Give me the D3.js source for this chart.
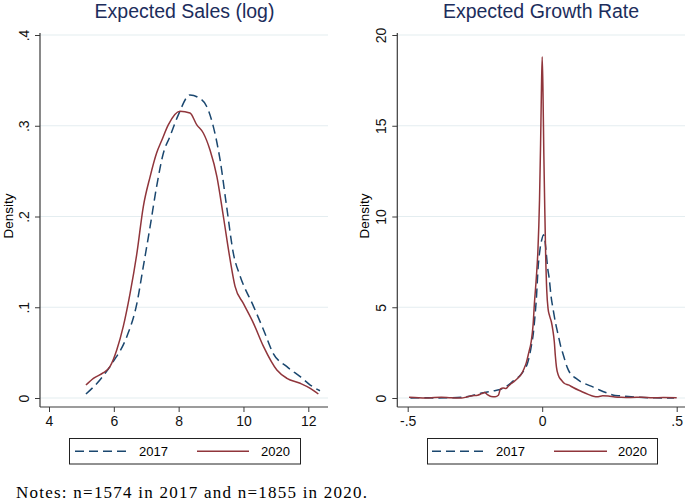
<!DOCTYPE html>
<html>
<head>
<meta charset="utf-8">
<script src="https://cdn.jsdelivr.net/npm/d3@7/dist/d3.min.js"></script>
<style>
  html, body { margin: 0; padding: 0; background: #fff; }
  svg { display: block; }
</style>
</head>
<body>
<svg id="chart" width="685" height="503"></svg>
<script>
// ---------------- DATA ----------------
const seriesNames = ["2017", "2020"];
const titles = ["Expected Sales (log)", "Expected Growth Rate"];
const yLabel = "Density";
const notesText = "Notes: n=1574 in 2017 and n=1855 in 2020.";

const salesXTicks = [4, 6, 8, 10, 12];
const salesXTickLabels = ["4", "6", "8", "10", "12"];
const salesYTicks = [0, 0.1, 0.2, 0.3, 0.4];
const salesYTickLabels = ["0", ".1", ".2", ".3", ".4"];

const growthXTicks = [-0.5, 0, 0.5];
const growthXTickLabels = ["-.5", "0", ".5"];
const growthYTicks = [0, 5, 10, 15, 20];
const growthYTickLabels = ["0", "5", "10", "15", "20"];

// Expected sales (log) density, 2017
const sales2017 = [
  [5.14, 0.0044], [5.57, 0.0198], [5.98, 0.040], [6.40, 0.0676], [6.71, 0.104],
  [6.91, 0.145], [7.12, 0.189], [7.32, 0.233], [7.53, 0.270], [7.73, 0.288],
  [7.99, 0.312], [8.35, 0.334], [8.61, 0.331], [8.87, 0.321], [9.07, 0.299],
  [9.28, 0.262], [9.48, 0.211], [9.69, 0.159], [9.90, 0.134], [10.31, 0.101],
  [10.62, 0.075], [10.92, 0.049], [11.34, 0.0345], [11.75, 0.0235], [12.06, 0.0143],
  [12.36, 0.008]
];
// Expected sales (log) density, 2020
const sales2020 = [
  [5.14, 0.0143], [5.37, 0.0217], [5.68, 0.0279], [5.88, 0.0345], [6.09, 0.0529],
  [6.29, 0.0786], [6.50, 0.115], [6.71, 0.159], [6.91, 0.211], [7.12, 0.244],
  [7.32, 0.270], [7.48, 0.284], [7.68, 0.301], [8.04, 0.316], [8.35, 0.314],
  [8.56, 0.301], [8.76, 0.292], [8.97, 0.273], [9.18, 0.244], [9.38, 0.200],
  [9.59, 0.152], [9.74, 0.123], [10.0, 0.104], [10.31, 0.0823], [10.62, 0.0566],
  [11.03, 0.0309], [11.34, 0.0217], [11.75, 0.0162], [12.06, 0.0107], [12.31, 0.0044]
];
// Expected growth rate density, 2017
const growth2017 = [
  [-0.49, 0.0], [-0.45, 0.02], [-0.40, 0.0], [-0.35, 0.01], [-0.30, 0.04],
  [-0.27, 0.1], [-0.25, 0.17], [-0.225, 0.27], [-0.20, 0.34], [-0.18, 0.40],
  [-0.16, 0.45], [-0.14, 0.58], [-0.12, 0.78], [-0.104, 0.99], [-0.085, 1.2],
  [-0.067, 1.54], [-0.055, 1.9], [-0.048, 2.28], [-0.040, 2.9], [-0.033, 3.56],
  [-0.027, 4.5], [-0.022, 5.4], [-0.015, 7.23], [-0.008, 8.2], [-0.002, 8.7],
  [0.005, 9.0], [0.010, 8.7], [0.015, 8.0], [0.020, 7.2], [0.026, 6.6],
  [0.033, 5.6], [0.041, 4.85], [0.050, 4.1], [0.059, 3.5], [0.068, 2.9],
  [0.078, 2.4], [0.088, 1.9], [0.097, 1.55], [0.11, 1.25], [0.126, 1.08],
  [0.145, 0.88], [0.165, 0.75], [0.19, 0.6], [0.213, 0.44], [0.24, 0.28],
  [0.262, 0.17], [0.29, 0.12], [0.32, 0.08], [0.36, 0.04], [0.42, 0.01], [0.49, 0.0]
];
// Expected growth rate density, 2020
const growth2020 = [
  [-0.495, 0.04], [-0.46, 0.01], [-0.43, 0.0], [-0.40, 0.03], [-0.375, 0.04],
  [-0.34, 0.01], [-0.30, 0.0], [-0.28, 0.06], [-0.26, 0.12], [-0.24, 0.15],
  [-0.225, 0.24], [-0.214, 0.3], [-0.205, 0.2], [-0.19, 0.08], [-0.175, 0.07],
  [-0.163, 0.15], [-0.155, 0.5], [-0.145, 0.55], [-0.135, 0.52], [-0.126, 0.65],
  [-0.115, 0.8], [-0.104, 0.92], [-0.09, 1.1], [-0.078, 1.3], [-0.068, 1.6],
  [-0.059, 1.95], [-0.050, 2.5], [-0.041, 3.1], [-0.034, 4.0], [-0.029, 5.2],
  [-0.022, 6.6], [-0.016, 8.1], [-0.010, 10.9], [-0.006, 14.0], [-0.003, 16.8],
  [0.0, 18.8], [0.003, 16.8], [0.006, 13.5], [0.009, 10.9], [0.013, 7.8],
  [0.017, 5.9], [0.022, 4.9], [0.028, 4.5], [0.034, 4.2], [0.040, 3.7],
  [0.045, 3.1], [0.049, 2.3], [0.053, 1.7], [0.060, 1.25], [0.071, 0.99],
  [0.083, 0.8], [0.097, 0.72], [0.115, 0.58], [0.134, 0.44], [0.15, 0.33],
  [0.171, 0.2], [0.19, 0.1], [0.208, 0.07], [0.225, 0.12], [0.245, 0.11],
  [0.27, 0.06], [0.294, 0.04], [0.33, 0.03], [0.37, 0.04], [0.41, 0.01],
  [0.45, 0.03], [0.50, 0.02]
];

// ---------------- STYLE / LAYOUT ----------------
const colors = { "2017": "#1a476f", "2020": "#90353b" };
const dash = { "2017": "9,5", "2020": null };
const gridColor = "#e4edf0";
const axisColor = "#3a3a3a";
const titleColor = "#1c2d5c";
const sansFont = "'Liberation Sans', Arial, Helvetica, sans-serif";

const svg = d3.select("#chart");

const panels = [
  {
    title: titles[0], titleX: 184.5,
    axisX: 40, right: 328, top: 33, bottom: 407,
    x: d3.scaleLinear().domain([4, 12]).range([49, 308.3]),
    y: d3.scaleLinear().domain([0, 0.4]).range([398, 35]),
    xTicks: salesXTicks, xLabels: salesXTickLabels,
    yTicks: salesYTicks, yLabels: salesYTickLabels,
    series: { "2017": sales2017, "2020": sales2020 },
    yTitleX: 13, yTickLabelX: 29,
    legend: { x: 69.5, y: 438.5, w: 231, h: 25.5, d0: 75, d1: 128, t1: 139, s0: 197, s1: 249, t2: 261 }
  },
  {
    title: titles[1], titleX: 541,
    axisX: 397.3, right: 685, top: 33, bottom: 407,
    x: d3.scaleLinear().domain([-0.5, 0.5]).range([407.7, 676.7]),
    y: d3.scaleLinear().domain([0, 20]).range([398, 35]),
    xTicks: growthXTicks, xLabels: growthXTickLabels,
    yTicks: growthYTicks, yLabels: growthYTickLabels,
    series: { "2017": growth2017, "2020": growth2020 },
    yTitleX: 369, yTickLabelX: 386,
    legend: { x: 427.5, y: 438.5, w: 230, h: 25.5, d0: 432, d1: 485, t1: 496, s0: 554, s1: 607, t2: 618 }
  }
];

panels.forEach(p => {
  const g = svg.append("g");

  // gridlines
  g.selectAll("line.grid").data(p.yTicks).enter().append("line")
    .attr("x1", p.axisX).attr("x2", p.right)
    .attr("y1", d => p.y(d)).attr("y2", d => p.y(d))
    .attr("stroke", gridColor).attr("stroke-width", 1.2);

  // density lines
  const line = d3.line().x(d => p.x(d[0])).y(d => p.y(d[1])).curve(d3.curveMonotoneX);
  ["2017", "2020"].forEach(k => {
    g.append("path").datum(p.series[k])
      .attr("d", line)
      .attr("fill", "none")
      .attr("stroke", colors[k])
      .attr("stroke-width", 1.5)
      .attr("stroke-dasharray", dash[k]);
  });

  // y axis
  const yAxis = d3.axisLeft(p.y).tickValues(p.yTicks)
    .tickFormat((d, i) => p.yLabels[i]).tickSize(5).tickSizeOuter(0);
  const yg = g.append("g").attr("transform", `translate(${p.axisX},0)`).call(yAxis);
  yg.select(".domain").remove();
  yg.selectAll(".tick line").attr("stroke", axisColor);
  yg.selectAll(".tick text")
    .attr("font-family", sansFont).attr("font-size", 14).attr("fill", "#111")
    .attr("text-anchor", "middle").attr("dy", null)
    .attr("x", null)
    .attr("transform", `translate(${p.yTickLabelX - p.axisX},0) rotate(-90)`);
  g.append("line").attr("x1", p.axisX).attr("x2", p.axisX)
    .attr("y1", p.top).attr("y2", p.bottom)
    .attr("stroke", axisColor).attr("stroke-width", 1.2);

  // x axis
  const xAxis = d3.axisBottom(p.x).tickValues(p.xTicks)
    .tickFormat((d, i) => p.xLabels[i]).tickSize(5).tickSizeOuter(0);
  const xg = g.append("g").attr("transform", `translate(0,${p.bottom})`).call(xAxis);
  xg.select(".domain").remove();
  xg.selectAll(".tick line").attr("stroke", axisColor);
  xg.selectAll(".tick text")
    .attr("font-family", sansFont).attr("font-size", 14).attr("fill", "#111")
    .attr("dy", null).attr("y", 19);
  g.append("line").attr("x1", p.axisX).attr("x2", p.right)
    .attr("y1", p.bottom).attr("y2", p.bottom)
    .attr("stroke", axisColor).attr("stroke-width", 1.2);

  // y title
  g.append("text").text(yLabel)
    .attr("transform", `translate(${p.yTitleX},216) rotate(-90)`)
    .attr("text-anchor", "middle")
    .attr("font-family", sansFont).attr("font-size", 13.5).attr("fill", "#000");

  // panel title
  g.append("text").text(p.title)
    .attr("x", p.titleX).attr("y", 17.5)
    .attr("text-anchor", "middle")
    .attr("font-family", sansFont).attr("font-size", 19.5).attr("fill", titleColor);

  // legend
  const L = p.legend;
  const lg = g.append("g");
  lg.append("rect").attr("x", L.x).attr("y", L.y).attr("width", L.w).attr("height", L.h)
    .attr("fill", "#fff").attr("stroke", "#222").attr("stroke-width", 1);
  const ly = L.y + L.h / 2;
  lg.append("line").attr("x1", L.d0).attr("x2", L.d1).attr("y1", ly).attr("y2", ly)
    .attr("stroke", colors["2017"]).attr("stroke-width", 1.5).attr("stroke-dasharray", dash["2017"]);
  lg.append("text").text(seriesNames[0]).attr("x", L.t1).attr("y", ly + 4.8)
    .attr("font-family", sansFont).attr("font-size", 13).attr("fill", "#000");
  lg.append("line").attr("x1", L.s0).attr("x2", L.s1).attr("y1", ly).attr("y2", ly)
    .attr("stroke", colors["2020"]).attr("stroke-width", 1.5);
  lg.append("text").text(seriesNames[1]).attr("x", L.t2).attr("y", ly + 4.8)
    .attr("font-family", sansFont).attr("font-size", 13).attr("fill", "#000");
});

// notes
svg.append("text").text(notesText)
  .attr("x", 16).attr("y", 498)
  .attr("font-family", "'Liberation Serif', 'Times New Roman', serif")
  .attr("font-size", 17).attr("fill", "#000")
  .attr("textLength", 351).attr("lengthAdjust", "spacing");
</script>
</body>
</html>
